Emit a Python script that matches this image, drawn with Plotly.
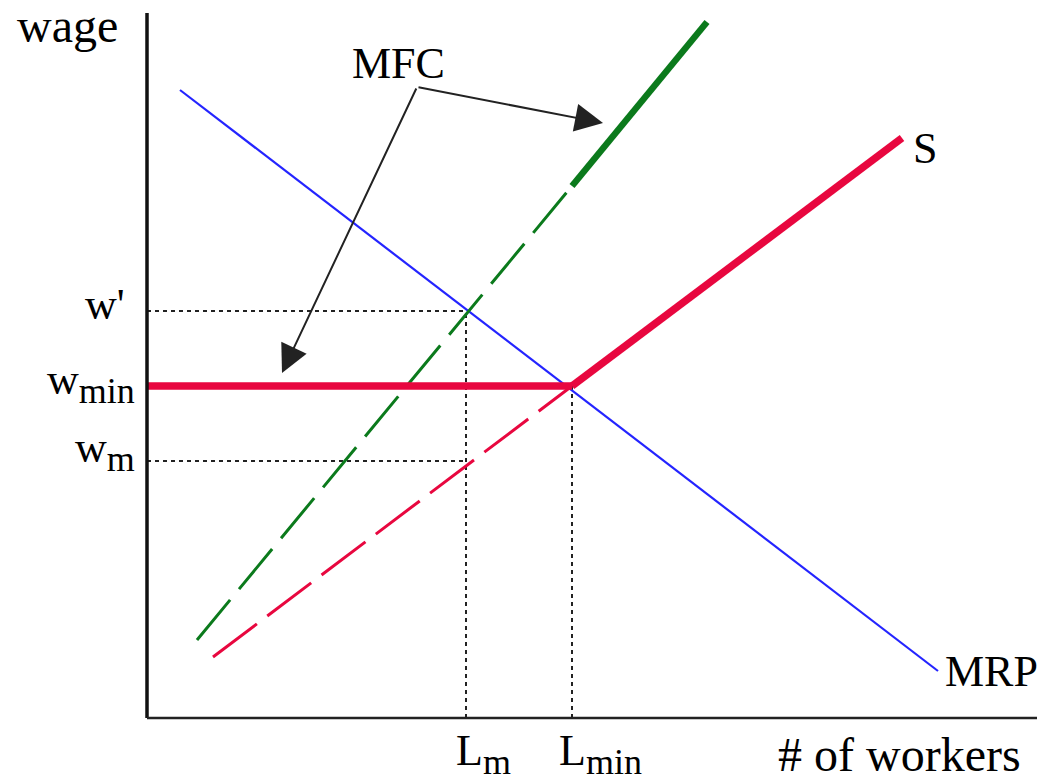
import plotly.graph_objects as go

# Monopsony labour market with a minimum wage (arbitrary units)
# Marginal revenue product of labour (demand)
mrp_L = [3.3, 79.1]
mrp_w = [62.8, 4.7]

# Supply curve: dashed below the minimum-wage kink, solid above it
s_dash_L = [6.6, 42.5]
s_dash_w = [6.1, 33.2]
s_solid_L = [42.5, 75.5]
s_solid_w = [33.2, 58.0]

# Marginal factor cost: dashed below, solid above
mfc_dash_L = [5.0, 42.5]
mfc_dash_w = [7.8, 53.2]
mfc_solid_L = [42.5, 56.0]
mfc_solid_w = [53.2, 69.6]

# Key wage / employment levels
w_prime = 40.7
w_min = 33.2
w_m = 25.7
L_m = 31.9
L_min = 42.5

# Axis extents
x_axis_end = 89.0
y_axis_top = 70.5

RED = "#E8073F"
GREEN = "#0B7A1C"
BLUE = "#2424FF"
DOT = "#222222"
FONT = "Liberation Serif"

fig = go.Figure()


def line(x, y, color, width, dash="solid"):
    fig.add_trace(go.Scatter(x=x, y=y, mode="lines",
                             line=dict(color=color, width=width, dash=dash),
                             hoverinfo="skip"))


# Guide lines
line([0, L_m], [w_prime, w_prime], DOT, 2, "4px,4px")
line([L_m, L_m], [0, w_prime], DOT, 2, "4px,4px")
line([0, L_m], [w_m, w_m], DOT, 2, "4px,4px")
line([L_min, L_min], [0, w_min], DOT, 2, "4px,4px")

# Curves
line(mrp_L, mrp_w, BLUE, 2.2)
line(mfc_dash_L, mfc_dash_w, GREEN, 3, "52px,14px")
line(mfc_solid_L, mfc_solid_w, GREEN, 6.5)
line(s_dash_L, s_dash_w, RED, 3, "55px,13px")
line(s_solid_L, s_solid_w, RED, 7.5)
line([0, L_min], [w_min, w_min], RED, 7.5)

# Axes
line([0, 0], [0, y_axis_top], "#111111", 3.5)
line([0, x_axis_end], [0, 0], "#222222", 2.5)


def label(text, x, y, xanchor="center", size=44):
    fig.add_annotation(x=x, y=y, text=text, showarrow=False,
                       xanchor=xanchor, yanchor="middle",
                       font=dict(family=FONT, size=size, color="black"))


def sub(base, s):
    return f"{base}<sub><span style='font-size:36px'>{s}</span></sub>"


label("wage", -8.0, 69.3, size=48)
label("MFC", 25.1, 65.5)
label("S", 76.4, 57.0, "left")
label("MRP", 79.6, 4.7, "left")
label("# of workers", 75.2, -3.6, size=48)
label(sub("L", "m"), L_m + 1.7, -3.6)
label(sub("L", "min"), L_min + 2.8, -3.6)
label("w'", -2.0, w_prime + 0.7, "right")
label(sub("w", "min"), -1.0, w_min + 0.3, "right")
label(sub("w", "m"), -1.0, w_m + 1.0, "right")

# MFC pointer arrows
pivot = (27.0, 63.1)
for tip in [(45.6, 59.5), (13.5, 34.5)]:
    fig.add_annotation(x=tip[0], y=tip[1], ax=pivot[0], ay=pivot[1],
                       xref="x", yref="y", axref="x", ayref="y",
                       text="", showarrow=True, arrowhead=2,
                       arrowsize=2.8, arrowwidth=2, arrowcolor="#222222",
                       standoff=0, startstandoff=0)

fig.update_layout(
    width=1054, height=781,
    margin=dict(l=0, r=0, t=0, b=0),
    paper_bgcolor="white", plot_bgcolor="white",
    showlegend=False,
    xaxis=dict(range=[-14.7, 90.7], visible=False, fixedrange=True),
    yaxis=dict(range=[-6.3, 71.8], visible=False, fixedrange=True),
)

fig.write_html("out.html")
